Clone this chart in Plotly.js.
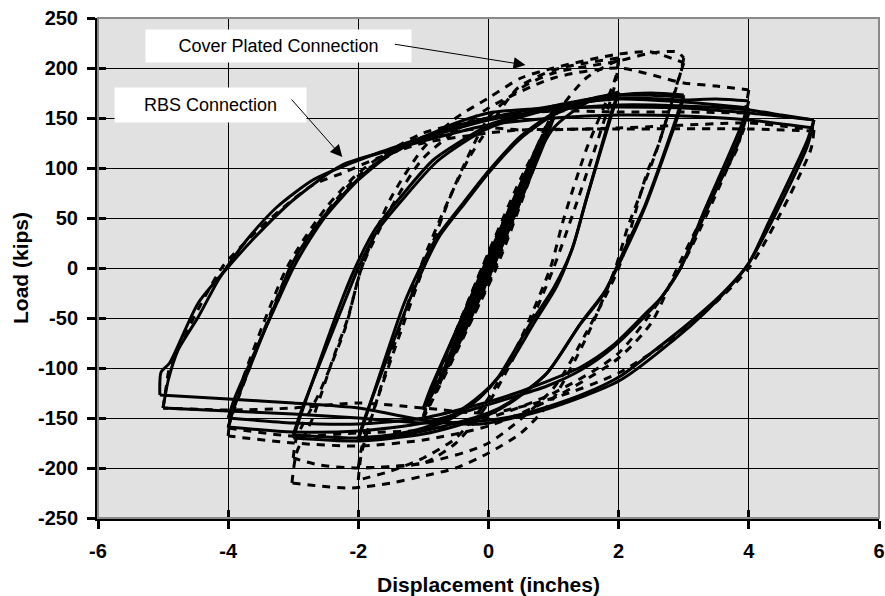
<!DOCTYPE html>
<html>
<head>
<meta charset="utf-8">
<script src="https://cdn.plot.ly/plotly-3.0.1.min.js"></script>
<style>html,body{margin:0;padding:0;background:#fff;}#chart{width:885px;height:596px;}</style>
</head>
<body>
<div id="chart"></div>
<script>
// ---- Tick labels ----
var xTickVals = [-6, -4, -2, 0, 2, 4, 6];
var xTickText = ["-6", "-4", "-2", "0", "2", "4", "6"];
var yTickVals = [-250, -200, -150, -100, -50, 0, 50, 100, 150, 200, 250];
var yTickText = ["-250", "-200", "-150", "-100", "-50", "0", "50", "100", "150", "200", "250"];

// ---- RBS Connection (solid): displacement (in); null separates half-cycles ----
var rbsDisp = [
  0, 0.375, null,
  0.375, 0.3, 0.02, -0.375, null,
  -0.375, -0.3, -0.02, 0.375, null,
  0.375, 0.02, -0.375, null,
  -0.375, -0.02, 0.5, null,
  0.5, 0.42, 0.03, -0.5, null,
  -0.5, -0.42, -0.03, 0.5, null,
  0.5, 0.03, -0.5, null,
  -0.5, -0.03, 0.75, null,
  0.75, 0.65, 0.05, -0.75, null,
  -0.75, -0.65, -0.05, 0.75, null,
  0.75, 0.05, -0.75, null,
  -0.75, -0.05, 0.5, 1, null,
  1, 0.9, 0.1, -0.5, -1, null,
  -1, -0.9, -0.08, 0.5, 1, null,
  1, 0.9, 0.08, -0.5, -1, null,
  -1, -0.9, -0.06, 0.5, 1, 1.5, 2, null,
  2, 1.9, 1.5, 1.28, 1.0, 0.65, 0.35, 0.14, -0.12, -0.5, -1, -1.5, -2, null,
  -2, -1.9, -1.3, -1.05, -0.8, -0.4, 0, 0.5, 1, 1.5, 2, null,
  2, 1.9, 1.5, 1.3, 1.05, 0.7, 0.4, 0.2, -0.1, -0.5, -1, -1.5, -2, null,
  -2, -1.9, -1.25, -1.0, -0.75, -0.35, 0, 0.5, 1, 1.5, 2, 2.5, 3, null,
  3, 2.9, 2.4, 2.1, 1.8, 1.42, 0.9, 0.4, 0, -0.5, -1, -2, -3, null,
  -3, -2.9, -2.3, -2.05, -1.75, -1.35, -0.85, -0.32, 0, 0.5, 1, 2, 3, null,
  3, 2.9, 2.4, 2.05, 1.75, 1.4, 0.9, 0.4, 0, -1, -2, -3, null,
  -3, -2.9, -2.25, -2.0, -1.7, -1.3, -0.8, -0.3, 0, 1, 2, 3, 3.5, 4, null,
  4, 3.9, 3.3, 2.95, 2.65, 2.45, 1.92, 1.42, 0.9, 0.38, -0.12, -1, -2, -3, -4, null,
  -4, -3.9, -3.3, -3.05, -2.8, -2.54, -2.02, -1.51, -1, -0.5, 0, 1, 2, 3, 4, null,
  4, 3.9, 3.3, 2.95, 2.65, 2.45, 1.92, 1.42, 0.38, -0.12, -1, -2, -3, -4, null,
  -4, -3.9, -3.25, -3.0, -2.75, -2.5, -2.0, -1.5, -1, 0, 1, 2, 3, 4, 4.5, 5, null,
  5, 4.9, 4.3, 4.0, 3.6, 3.1, 2.5, 2.03, 1.5, 0.9, 0.4, -0.12, -1, -2, -3, -4, -5, null,
  -5, -4.92, -4.77, -4.46, -4.15, -3.9, -3.69, -3.25, -2.7, -2.3, -1.7, -1, -0.5, 0, 1, 2, 3, 4, 5, null,
  5, 4.9, 4.3, 3.95, 3.55, 3.1, 2.03, 0.9, -0.12, -1, -2, -3, -4, -5.05, null,
  -5.05, -5.03, -4.9, -4.46, -4.0, -3.6, -3, -2.25, -1.5, -1, 0, 1, 2, 3, 4, 5
];
// ---- RBS Connection (solid): load (kips) ----
var rbsLoad = [
  0, 58, null,
  58, 45, 0, -55, null,
  -55, -42, 0, 57, null,
  57, 0, -55, null,
  -55, 0, 78, null,
  78, 64, 2, -76, null,
  -76, -62, 0, 77, null,
  77, 0, -75, null,
  -75, 0, 117, null,
  117, 100, 2, -113, null,
  -113, -96, 0, 116, null,
  116, 0, -112, null,
  -112, 0, 80, 152, null,
  152, 135, 5, -82, -142, null,
  -142, -125, 0, 85, 150, null,
  150, 132, 3, -80, -140, null,
  -140, -122, 0, 80, 140, 165, 176, null,
  176, 158, 68, 18, -20, -55, -88, -110, -129, -148, -162, -169, -172, null,
  -172, -152, -36, 0, 30, 64, 97, 132, 155, 168, 175, null,
  175, 155, 68, 22, -18, -55, -88, -106, -126, -145, -160, -167, -170, null,
  -170, -150, -38, 0, 32, 66, 95, 130, 153, 166, 173, 175, 173, null,
  173, 153, 62, 20, -22, -55, -105, -132, -147, -158, -166, -173, -170, null,
  -170, -150, -40, 0, 38, 71, 108, 131, 143, 153, 162, 173, 171, null,
  171, 150, 60, 10, -28, -57, -105, -131, -145, -163, -170, -167, null,
  -167, -147, -40, 0, 38, 70, 106, 129, 140, 160, 170, 168, 169, 167, null,
  167, 145, 55, 0, -30, -45, -79, -102, -118, -129, -139, -155, -163, -164, -159, null,
  -159, -138, -40, 0, 28, 51, 88, 115, 131, 142, 150, 162, 169, 166, 160, null,
  160, 138, 50, 0, -30, -43, -77, -99, -126, -136, -150, -156, -155, -150, null,
  -150, -130, -35, 0, 28, 52, 88, 114, 129, 148, 158, 163, 162, 158, 153, 148, null,
  148, 128, 45, 5, -25, -54, -85, -108, -125, -139, -148, -153, -155, -150, -146, -143, -140, null,
  -140, -112, -82, -49, -12, 12, 30, 61, 88, 100, 115, 131, 145, 155, 160, 161, 160, 155, 148, null,
  148, 122, 40, 0, -30, -58, -112, -141, -156, -152, -140, -135, -131, -127, null,
  -127, -104, -95, -35, 1, 30, 68, 103, 118, 127, 143, 150, 153, 152, 148, 140
];

// ---- Cover Plated Connection (dashed): displacement (in) ----
var cpDisp = [
  0, 0.375, null,
  0.375, 0.03, -0.375, null,
  -0.375, -0.03, 0.375, null,
  0.375, 0.03, -0.375, null,
  -0.375, -0.03, 0.5, null,
  0.5, 0.04, -0.5, null,
  -0.5, -0.04, 0.5, null,
  0.5, 0.04, -0.5, null,
  -0.5, -0.04, 0.75, null,
  0.75, 0.07, -0.75, null,
  -0.75, -0.07, 0.75, null,
  0.75, 0.07, -0.75, null,
  -0.75, -0.07, 0.5, 1, null,
  1, 0.9, 0.1, -0.5, -1, null,
  -1, -0.9, -0.1, 0.5, 1, null,
  1, 0.9, 0.12, -0.5, -1, null,
  -1, -0.9, -0.1, 0.5, 1, 1.5, 2, null,
  2, 1.95, 1.5, 1.15, 0.95, 0.5, 0, -0.5, -1, -1.5, -2, null,
  -2, -1.95, -1.05, -0.6, -0.3, 0, 0.45, 1, 1.5, 2, null,
  2, 1.95, 1.0, 0.5, 0, -0.5, -1, -2, null,
  -2, -1.95, -1.0, -0.5, 0, 0.5, 1, 2, 2.5, 2.9, 3, null,
  3, 2.95, 2.6, 2.34, 2.14, 1.95, 1.5, 1, 0.5, 0, -0.5, -1, -1.5, -2.1, -2.6, -3.02, null,
  -3.02, -2.95, -2.7, -2.38, -2.17, -1.95, -1.5, -1, -0.5, 0, 0.5, 1, 2, 2.5, 3, null,
  3, 2.9, 2.6, 2.45, 2.34, 2.0, 1.5, 1, 0, -1, -2, -2.6, -3, null,
  -3, -2.95, -2.6, -2.2, -1.95, -1.5, -1, 0, 1, 2, 3, 3.5, 4, null,
  4, 3.95, 3.83, 3.57, 2.9, 2.5, 2, 1, 0, -1, -2, -3, -4, null,
  -4, -3.95, -3.1, -2.5, -2, -1.5, -1, 0, 1, 2, 3, 4, null,
  4, 3.9, 2.95, 2, 1, 0, -1, -2, -3, -4, null,
  -4, -3.9, -3.05, -2.5, -2, -1, 0, 0.5, 2, 4, 4.5, 5, null,
  5, 4.95, 4.0, 3, 2, 1, 0, -1, -2, -3, -4, -5, null,
  -5, -4.95, -4.9, -4.1, -3.7, -3.2, -2.7, -2.2, -1.7, -1, 0, 0.5, 2, 4, 5
];
// ---- Cover Plated Connection (dashed): load (kips) ----
var cpLoad = [
  0, 60, null,
  60, 0, -58, null,
  -58, 0, 60, null,
  60, 0, -57, null,
  -57, 0, 80, null,
  80, 0, -78, null,
  -78, 0, 80, null,
  80, 0, -78, null,
  -78, 0, 120, null,
  120, 0, -116, null,
  -116, 0, 119, null,
  119, 0, -115, null,
  -115, 0, 85, 160, null,
  160, 140, 0, -85, -150, null,
  -150, -130, 0, 85, 158, null,
  158, 138, 0, -83, -148, null,
  -148, -128, 0, 90, 150, 190, 208, null,
  208, 190, 118, 48, 0, -70, -130, -170, -190, -203, -212, null,
  -212, -185, 0, 70, 110, 140, 180, 198, 205, 210, null,
  210, 185, 0, -75, -135, -175, -195, -200, null,
  -200, -180, 0, 85, 150, 180, 195, 207, 215, 216, 210, null,
  210, 195, 121, 75, 41, 0, -70, -130, -165, -185, -200, -208, -215, -220, -218, -215, null,
  -215, -185, -150, -89, -52, 0, 70, 120, 150, 170, 190, 200, 214, 216, 205, null,
  205, 185, 121, 98, 75, 0, -65, -120, -175, -195, -200, -197, -190, null,
  -190, -170, -125, -60, 0, 60, 110, 160, 190, 200, 185, 182, 178, null,
  178, 160, 121, 88, 0, -55, -90, -130, -158, -172, -178, -175, -168, null,
  -168, -145, 0, 60, 95, 118, 135, 150, 157, 156, 156, 155, null,
  155, 135, 0, -85, -125, -150, -162, -165, -168, -160, null,
  -160, -140, 0, 55, 92, 130, 140, 138, 140, 145, 142, 138, null,
  138, 118, 0, -62, -105, -130, -145, -140, -135, -140, -142, -140, null,
  -140, -118, -100, 0, 28, 58, 83, 96, 110, 125, 135, 138, 139, 139, 137
];

var traces = [
  {
    x: cpDisp, y: cpLoad, type: 'scatter', mode: 'lines', name: 'Cover Plated Connection',
    connectgaps: false,
    line: {color: '#000000', width: 3, dash: '8px,7px', shape: 'spline', smoothing: 0.7}, hoverinfo: 'skip'
  },
  {
    x: rbsDisp, y: rbsLoad, type: 'scatter', mode: 'lines', name: 'RBS Connection',
    connectgaps: false,
    line: {color: '#000000', width: 3, shape: 'spline', smoothing: 0.7}, hoverinfo: 'skip'
  },
  { x: [null], y: [null], xaxis: 'x2', yaxis: 'y2', type: 'scatter', mode: 'lines', hoverinfo: 'skip', showlegend: false }
];

var FONT = 'Arial, "Liberation Sans", Helvetica, sans-serif';

var layout = {
  width: 885, height: 596,
  margin: {l: 98, r: 6, t: 18, b: 78, pad: 0},
  paper_bgcolor: '#ffffff',
  plot_bgcolor: '#e1e1e1',
  showlegend: false,
  font: {family: FONT, color: '#000000'},
  xaxis: {
    range: [-6, 6], tickvals: xTickVals, ticktext: xTickText,
    showgrid: true, gridcolor: '#000000', gridwidth: 1, zeroline: false,
    showline: true, linecolor: '#000000', linewidth: 3,
    ticks: 'outside', ticklen: 8, tickwidth: 3, tickcolor: '#000000',
    tickfont: {family: FONT, size: 20, weight: 'bold', color: '#000000'},
    ticklabelstandoff: 5,
    title: {text: 'Displacement (inches)', font: {family: FONT, size: 21, weight: 'bold', color: '#000000'}, standoff: 17},
    fixedrange: true
  },
  yaxis: {
    range: [-250, 250], tickvals: yTickVals, ticktext: yTickText,
    showgrid: true, gridcolor: '#000000', gridwidth: 1, zeroline: false,
    showline: true, linecolor: '#000000', linewidth: 3,
    ticks: 'outside', ticklen: 8, tickwidth: 3, tickcolor: '#000000',
    tickfont: {family: FONT, size: 20, weight: 'bold', color: '#000000'},
    ticklabelstandoff: 5,
    title: {text: 'Load (kips)', font: {family: FONT, size: 21, weight: 'bold', color: '#000000'}, standoff: 4},
    fixedrange: true
  },
  xaxis2: {
    overlaying: 'x', anchor: 'y2', side: 'bottom', range: [-6, 6], tickvals: xTickVals,
    ticks: 'inside', ticklen: 8, tickwidth: 3, tickcolor: '#000000',
    showticklabels: false, showgrid: false, zeroline: false, showline: false, fixedrange: true
  },
  yaxis2: {
    overlaying: 'y', anchor: 'x2', side: 'left', range: [-250, 250], tickvals: yTickVals,
    ticks: 'inside', ticklen: 8, tickwidth: 3, tickcolor: '#000000',
    showticklabels: false, showgrid: false, zeroline: false, showline: false, fixedrange: true
  },
  shapes: [
    {type: 'rect', xref: 'paper', yref: 'paper', x0: 0, x1: 1, y0: 0, y1: 1,
     line: {color: '#8a8a8a', width: 2}, fillcolor: 'rgba(0,0,0,0)', layer: 'above'}
  ],
  annotations: [
    {x: -3.223, y: 222, xref: 'x', yref: 'y', text: 'Cover Plated Connection', showarrow: false,
     xanchor: 'center', yanchor: 'middle', bgcolor: '#ffffff', width: 265, height: 32, borderpad: 0,
     font: {family: FONT, size: 18, color: '#000000'}},
    {x: -4.269, y: 163, xref: 'x', yref: 'y', text: 'RBS Connection', showarrow: false,
     xanchor: 'center', yanchor: 'middle', bgcolor: '#ffffff', width: 191, height: 34, borderpad: 0,
     font: {family: FONT, size: 18, color: '#000000'}},
    {x: 0.569, y: 203, xref: 'x', yref: 'y', ax: -1.462, ay: 224, axref: 'x', ayref: 'y',
     text: '', showarrow: true, arrowhead: 2, arrowsize: 2.4, arrowwidth: 1, arrowcolor: '#000000', standoff: 0},
    {x: -2.246, y: 111, xref: 'x', yref: 'y', ax: -3.046, ay: 170, axref: 'x', ayref: 'y',
     text: '', showarrow: true, arrowhead: 2, arrowsize: 2.4, arrowwidth: 1, arrowcolor: '#000000', standoff: 0}
  ]
};

Plotly.newPlot('chart', traces, layout, {staticPlot: true, displayModeBar: false});
</script>
</body>
</html>
